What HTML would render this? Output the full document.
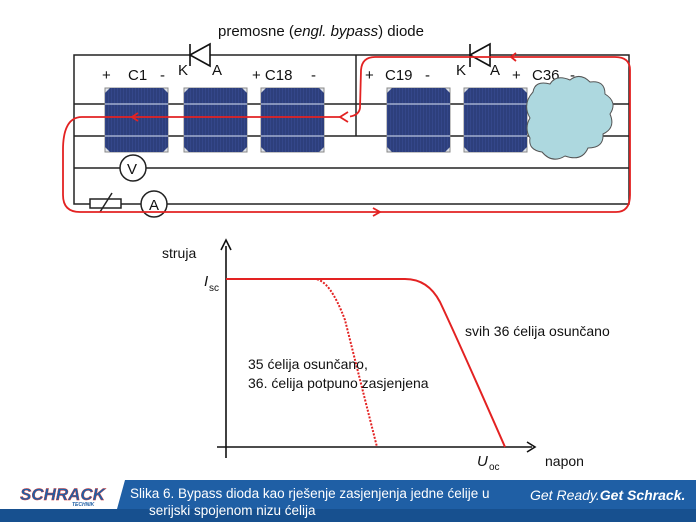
<!DOCTYPE html>
<html><head><meta charset="utf-8"><style>
body{margin:0;width:696px;height:522px;background:#fff;overflow:hidden;font-family:"Liberation Sans",sans-serif}
</style></head><body>
<svg width="696" height="522" viewBox="0 0 696 522" xmlns="http://www.w3.org/2000/svg" font-family="Liberation Sans, sans-serif">
<defs>
<pattern id="cellp" width="3" height="3" patternUnits="userSpaceOnUse"><rect width="3" height="3" fill="#2d3f7c"/><rect width="1" height="3" fill="#34478a"/></pattern>
<g id="c"><rect x="0" y="0" width="63" height="64" fill="#dfe3ea" stroke="#888"/><path d="M5 0 H58 L63 5 V59 L58 64 H5 L0 59 V5 Z" fill="url(#cellp)"/><line x1="0" y1="16" x2="63" y2="16" stroke="#b9c3dd" stroke-width="1.2"/><line x1="0" y1="48" x2="63" y2="48" stroke="#b9c3dd" stroke-width="1.2"/></g>
</defs>
<text x="218" y="36" font-size="15" fill="#111">premosne (<tspan font-style="italic">engl. bypass</tspan>) diode</text>
<g stroke="#222" stroke-width="1.5" fill="none">
<rect x="74" y="55" width="555" height="149"/>
<line x1="74" y1="104" x2="629" y2="104"/>
<line x1="74" y1="136" x2="629" y2="136"/>
<line x1="74" y1="168" x2="629" y2="168"/>
<line x1="356" y1="55" x2="356" y2="136"/>
</g>
<g stroke="#111" stroke-width="1.6" fill="#fff">
<line x1="190" y1="44" x2="190" y2="66"/><path d="M190 55 L210 44 L210 66 Z"/>
<line x1="470" y1="44" x2="470" y2="67"/><path d="M470 55 L490 44 L490 66 Z"/>
</g>
<g font-size="15" fill="#111">
<text x="178" y="75">K</text><text x="212" y="75">A</text>
<text x="456" y="75">K</text><text x="490" y="75">A</text>
<text x="102" y="80">+</text><text x="128" y="80">C1</text><text x="160" y="80">-</text>
<text x="252" y="80">+ C18</text><text x="311" y="80">-</text>
<text x="365" y="80">+</text><text x="385" y="80">C19</text><text x="425" y="80">-</text>
<text x="512" y="80">+</text><text x="532" y="80">C36</text><text x="570" y="80">-</text>
</g>
<use href="#c" x="105" y="88"/><use href="#c" x="184" y="88"/><use href="#c" x="261" y="88"/><use href="#c" x="387" y="88"/><use href="#c" x="464" y="88"/>
<path d="M533 92 Q535 80 550 84 Q556 74 570 80 Q580 72 590 82 Q605 80 605 94 Q618 102 610 114 Q616 128 603 134 Q604 148 588 148 Q582 162 565 156 Q552 164 542 152 Q528 150 530 138 Q524 128 530 118 Q522 104 533 92 Z" fill="#add8df" stroke="#555" stroke-width="1"/>
<g stroke="#222" stroke-width="1.5">
<circle cx="133" cy="168" r="13" fill="#fff"/>
<rect x="90" y="199" width="31" height="9" fill="#fff"/>
<line x1="100" y1="212" x2="112" y2="193"/>
<circle cx="154" cy="204" r="13" fill="#fff"/>
</g>
<text x="127" y="174" font-size="15" fill="#111">V</text>
<text x="149" y="210" font-size="15" fill="#111">A</text>
<g stroke="#e32222" stroke-width="1.8" fill="none">
<path d="M340 117 L82 117 Q63 117 63 150 L63 195 Q63 212 80 212 L616 212 Q630 212 630 195 L630 70 Q630 57 615 57 L375 57 Q362 57 361 70 L360 108 Q359 115 350 116.5"/>
<path d="M348 112 L340 117 L348 122"/>
<path d="M138 113 L132 117 L138 121"/>
<path d="M373 208 L380 212 L373 216"/>
<path d="M516 53 L511 57 L516 61"/>
</g>
<g stroke="#111" stroke-width="1.6" fill="#111">
<line x1="226" y1="458" x2="226" y2="246"/><path d="M221 250 L226 240 L231 250" fill="none"/>
<line x1="217" y1="447" x2="532" y2="447"/><path d="M527 442 L535 447 L527 452" fill="none"/>
</g>
<path d="M226 279 L405 279 Q428 279 440 302 Q458 340 505 447" stroke="#e32222" stroke-width="2" fill="none"/>
<path d="M226 279 L315 279 Q330 280 345 320 Q355 360 377 447" stroke="#e32222" stroke-width="2" fill="none" stroke-dasharray="2 1.5"/>
<g font-size="14" fill="#111">
<text x="162" y="258">struja</text>
<text x="204" y="286" font-style="italic" font-size="15">I</text><text x="209" y="291" font-size="10">sc</text>
<text x="465" y="336">svih 36 ćelija osunčano</text>
<text x="248" y="369">35 ćelija osunčano,</text>
<text x="248" y="388">36. ćelija potpuno zasjenjena</text>
<text x="477" y="466" font-style="italic" font-size="15">U</text><text x="489" y="470" font-size="10">oc</text>
<text x="545" y="466">napon</text>
</g>
<path d="M125 480 L696 480 L696 522 L0 522 L0 509 L117 509 Z" fill="#1f5fa5"/>
<rect x="0" y="509" width="696" height="13" fill="#17508f"/>
<text x="20" y="500" font-size="17" font-weight="bold" font-style="italic" fill="#1f5fa5" stroke="#c33" stroke-width="0.4">SCHRACK</text>
<text x="72" y="506" font-size="5" font-weight="bold" font-style="italic" fill="#1f5fa5">TECHNIK</text>
<text x="130" y="498" font-size="13.5" fill="#fff">Slika 6. Bypass dioda kao rješenje zasjenjenja jedne ćelije u</text>
<text x="149" y="515" font-size="13.5" fill="#fff">serijski spojenom nizu ćelija</text>
<text x="530" y="500" font-size="14" font-style="italic" fill="#fff">Get Ready.<tspan font-weight="bold">Get Schrack.</tspan></text>
</svg>
</body></html>
